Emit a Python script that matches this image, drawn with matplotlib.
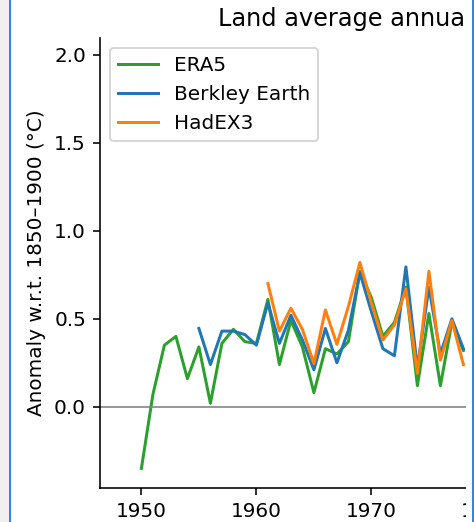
import matplotlib
matplotlib.use("Agg")
import matplotlib.pyplot as plt
from matplotlib.patches import Rectangle
from matplotlib.lines import Line2D

# annual land averages, anomaly vs 1850-1900 (degC)
era5_years = list(range(1950, 1979))
era5 = [-0.35, 0.07, 0.35, 0.40, 0.16, 0.34, 0.02, 0.36, 0.44, 0.37,
        0.36, 0.61, 0.24, 0.49, 0.34, 0.08, 0.33, 0.30, 0.37, 0.77,
        0.62, 0.40, 0.48, 0.68, 0.12, 0.53, 0.12, 0.48, 0.32]

berkeley_years = list(range(1955, 1979))
berkeley = [0.445, 0.24, 0.43, 0.43, 0.41, 0.35, 0.59, 0.36, 0.52, 0.38,
            0.21, 0.445, 0.25, 0.435, 0.76, 0.54, 0.33, 0.29, 0.795, 0.22,
            0.68, 0.30, 0.50, 0.33]

hadex_years = list(range(1961, 1979))
hadex = [0.70, 0.43, 0.56, 0.44, 0.245, 0.55, 0.355, 0.57, 0.82, 0.59,
         0.38, 0.465, 0.67, 0.19, 0.77, 0.265, 0.49, 0.24]

title = "Land average annual TXx"
ylabel = "Anomaly w.r.t. 1850\u20131900 (\u00b0C)"

W, H, DPI = 474, 522, 144
fig = plt.figure(figsize=(W / DPI, H / DPI), dpi=DPI)

xlim = (1946.4, 2025.6)
px_per_year = 11.5
ax_left, ax_bottom, ax_top = 100, 488.3, 38
ax_w = (xlim[1] - xlim[0]) * px_per_year
ax = fig.add_axes([ax_left / W, (H - ax_bottom) / H, ax_w / W, (ax_bottom - ax_top) / H])

ax.plot(era5_years, era5, color="tab:green", label="ERA5")
ax.plot(berkeley_years, berkeley, color="tab:blue", label="Berkley Earth")
ax.plot(hadex_years, hadex, color="tab:orange", label="HadEX3")
ax.axhline(0, color="grey", lw=0.8)

ax.set_xlim(*xlim)
ax.set_ylim(-0.463, 2.095)
ax.set_xticks([1950, 1960, 1970, 1980, 1990, 2000, 2010, 2020])
ax.set_yticks([0.0, 0.5, 1.0, 1.5, 2.0])
ax.set_ylabel(ylabel)
ax.spines["top"].set_visible(False)
ax.spines["right"].set_visible(False)
ax.legend(loc="upper left")

fig.text(218 / W, (H - 26) / H, title, fontsize=12, ha="left", va="baseline")

# window frame around the figure
fig.patches.append(Rectangle((465.5 / W, 0), (W - 465.5) / W, 1, transform=fig.transFigure,
                             facecolor="white", edgecolor="none", zorder=10))
fig.patches.append(Rectangle((0, 0), 9 / W, 1, transform=fig.transFigure,
                             facecolor="#f0f0f0", edgecolor="none", zorder=10))
for xp in (9.5, 473):
    fig.lines.append(Line2D([xp / W, xp / W], [0, 1], transform=fig.transFigure,
                            color="#1c7bd4", lw=0.9, zorder=11))

fig.savefig("out.png", dpi=DPI)
